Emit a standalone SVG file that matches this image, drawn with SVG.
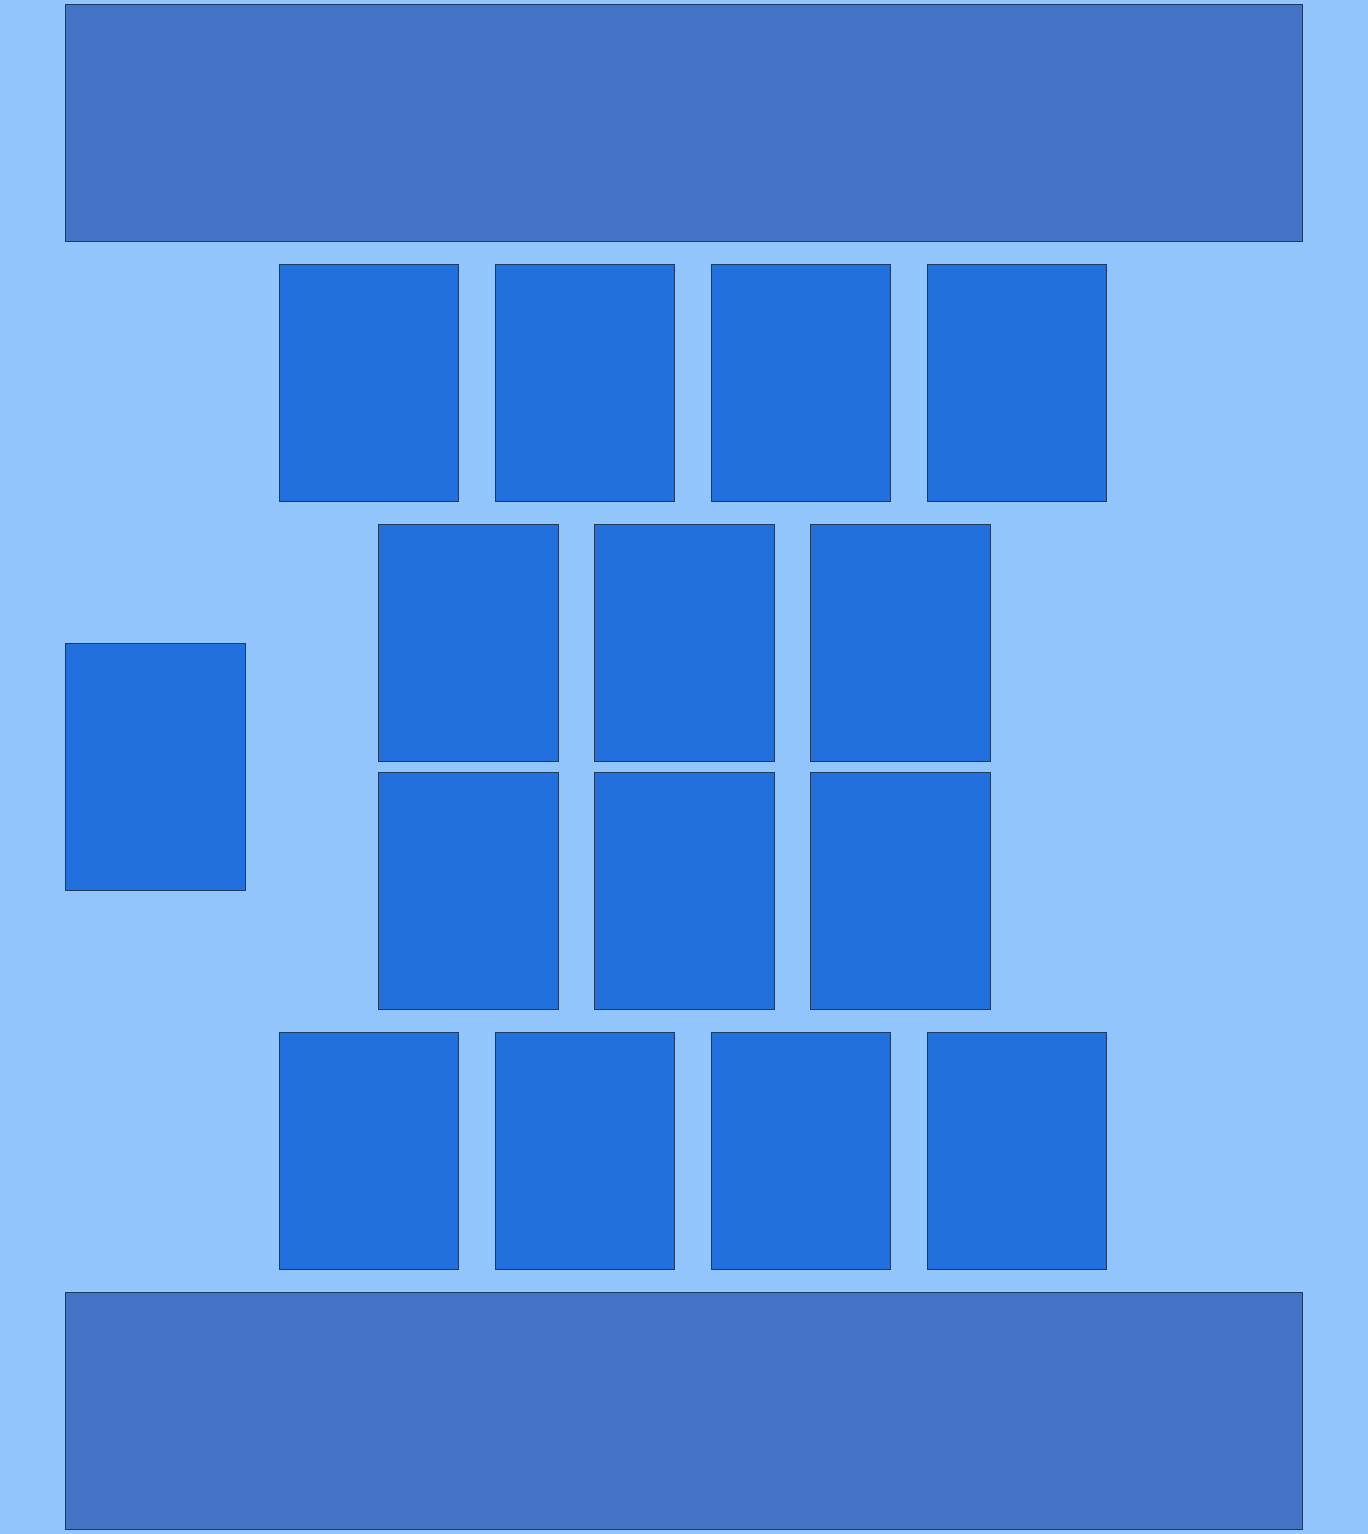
<svg xmlns="http://www.w3.org/2000/svg" width="1368" height="1534" viewBox="0 0 1368 1534">
<style>
.bg{fill:#93C5FD}
.banner{fill:#4472C4;stroke:#1E3A5F;stroke-width:1}
.card{fill:#2170DE;stroke:#1E3A5F;stroke-width:1}
</style>
<rect class="bg" x="0" y="0" width="1368" height="1534"/>
<g id="banner-top"><rect class="banner" x="65.5" y="4.5" width="1237" height="237"/></g>
<g id="r1c1"><rect class="card" x="279.5" y="264.5" width="179" height="237"/></g>
<g id="r1c2"><rect class="card" x="495.5" y="264.5" width="179" height="237"/></g>
<g id="r1c3"><rect class="card" x="711.5" y="264.5" width="179" height="237"/></g>
<g id="r1c4"><rect class="card" x="927.5" y="264.5" width="179" height="237"/></g>
<g id="side"><rect class="card" x="65.5" y="643.5" width="180" height="247"/></g>
<g id="r2c1"><rect class="card" x="378.5" y="524.5" width="180" height="237"/></g>
<g id="r2c2"><rect class="card" x="594.5" y="524.5" width="180" height="237"/></g>
<g id="r2c3"><rect class="card" x="810.5" y="524.5" width="180" height="237"/></g>
<g id="r3c1"><rect class="card" x="378.5" y="772.5" width="180" height="237"/></g>
<g id="r3c2"><rect class="card" x="594.5" y="772.5" width="180" height="237"/></g>
<g id="r3c3"><rect class="card" x="810.5" y="772.5" width="180" height="237"/></g>
<g id="r4c1"><rect class="card" x="279.5" y="1032.5" width="179" height="237"/></g>
<g id="r4c2"><rect class="card" x="495.5" y="1032.5" width="179" height="237"/></g>
<g id="r4c3"><rect class="card" x="711.5" y="1032.5" width="179" height="237"/></g>
<g id="r4c4"><rect class="card" x="927.5" y="1032.5" width="179" height="237"/></g>
<g id="banner-bottom"><rect class="banner" x="65.5" y="1292.5" width="1237" height="237"/></g>
<g id="connectors"></g>
</svg>
